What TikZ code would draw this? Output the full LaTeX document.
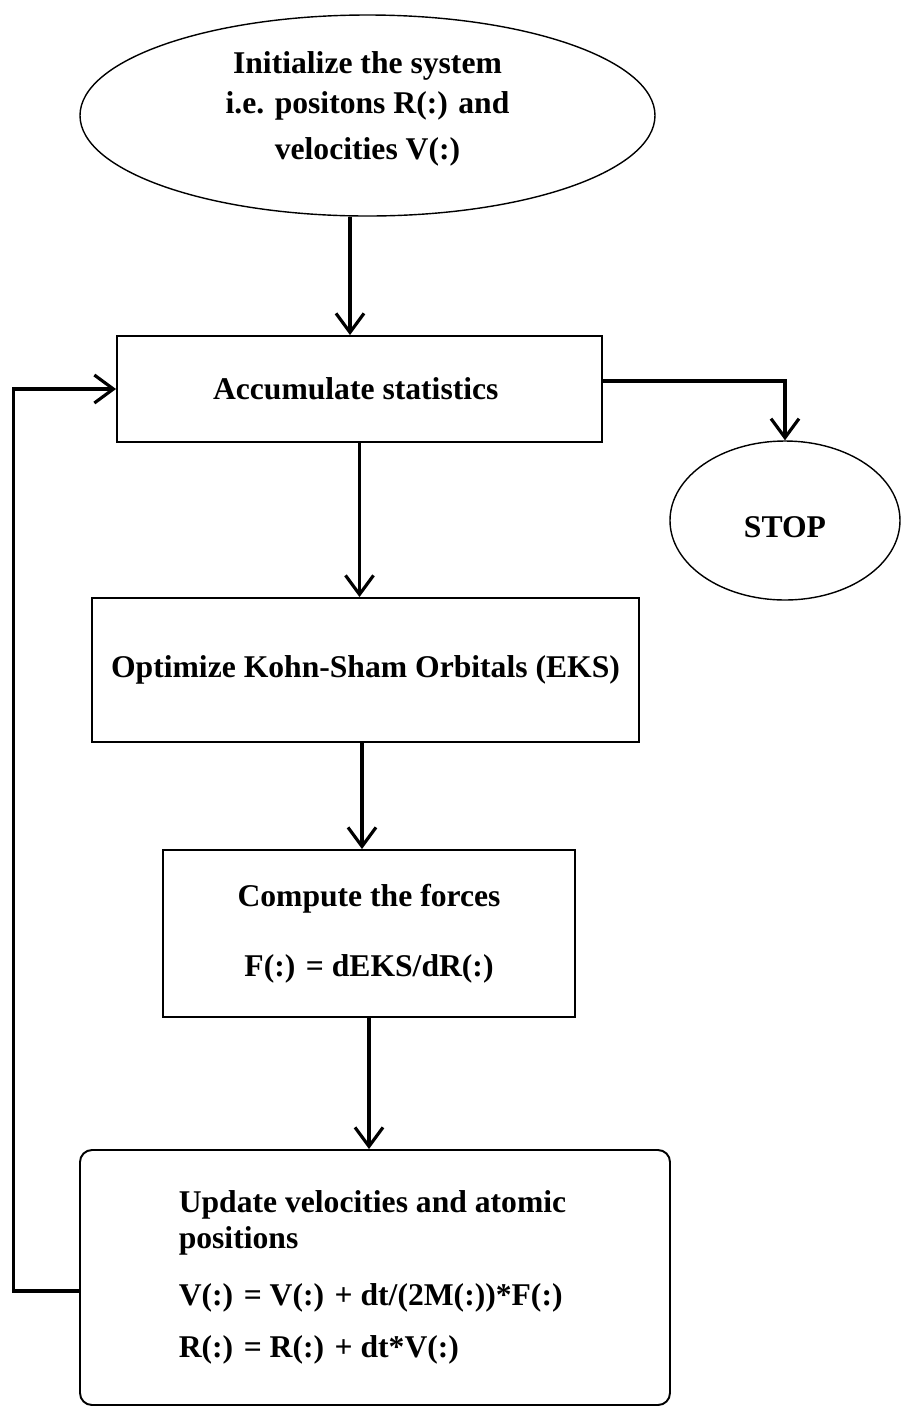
\documentclass[tikz,border=0pt]{standalone}
\usepackage{fontspec}
\setmainfont{Liberation Serif}
\usetikzlibrary{arrows.meta,shapes.geometric}
\begin{document}
\begin{tikzpicture}[
  txt/.style={font=\bfseries\fontsize{18}{24}\selectfont, align=center, inner sep=0pt},
  oval/.style={draw, ellipse, line width=0.8pt, txt},
  box/.style={draw, rectangle, line width=1.1pt, txt},
  conn/.style={line width=1.8pt, -{Straight Barb[length=0.38cm,width=0.56cm]}},
  plain/.style={line width=1.8pt}
]
\useasboundingbox (0,0) rectangle (18.04,-28.16);
\fill[white] (0,0) rectangle (18.04,-28.16);

\node[oval, minimum width=11.5cm, minimum height=4.02cm] (init) at (7.35,-2.31) {};
\node[txt] (inittxt) at ([yshift=0.14cm]init.center)
  {Initialize the system\\[-1pt] i.e. positons R(:) and\\[2pt] velocities V(:)};
\node[box, minimum width=9.7cm, minimum height=2.12cm] (box1) at (7.19,-7.78)
  {\hspace*{-0.15cm}Accumulate statistics};
\node[oval, minimum width=4.6cm, minimum height=3.18cm] (stop) at (15.7,-10.41) {};
\node[txt] (stoptxt) at ([yshift=-0.13cm]stop.center) {STOP};
\node[box, minimum width=10.94cm, minimum height=2.88cm] (box2) at (7.31,-13.4)
  {Optimize Kohn-Sham Orbitals (EKS)};
\node[box, minimum width=8.24cm, minimum height=3.34cm] (box3) at (7.38,-18.67)
  {Compute the forces\\[0.55cm] F(:) = dEKS/dR(:)};
\node[box, rounded corners=0.24cm, minimum width=11.8cm, minimum height=5.1cm, align=left] (box4) at (7.5,-25.55)
  {\hspace*{-0.1cm}Update velocities and atomic\\[-4pt] \hspace*{-0.1cm}positions\\[0.3cm] \hspace*{-0.1cm}V(:) = V(:) + dt/(2M(:))*F(:)\\[0.2cm] \hspace*{-0.1cm}R(:) = R(:) + dt*V(:)};

\path (init.south) ++(-0.35,0) coordinate (a1);
\draw[conn] (a1) -- (a1 |- box1.north);
\draw[conn] ([yshift=0.16cm]box1.east) -| (stop.north);
\draw[conn] (box1.south) -- (box1.south |- box2.north);
\path (box2.south) ++(-0.07,0) coordinate (a2);
\draw[conn] (a2) -- (a2 |- box3.north);
\draw[conn] (box3.south) -- (box3.south |- box4.north);
\coordinate (lp) at (0.27,0);
\draw[conn] ([yshift=-0.27cm]box4.west) -| (lp |- box1.west) -- (box1.west);
\end{tikzpicture}
\end{document}
